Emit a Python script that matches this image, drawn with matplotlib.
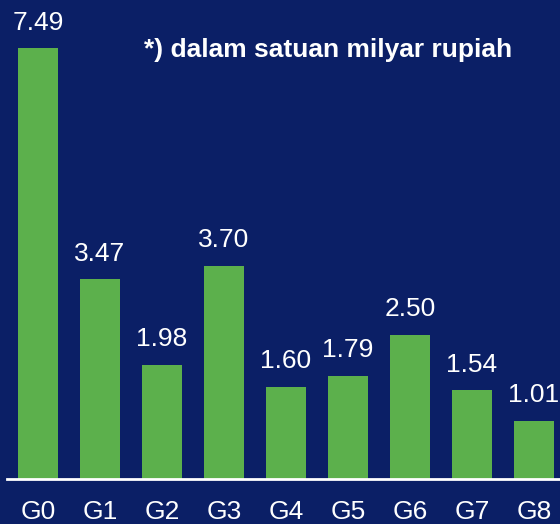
import matplotlib
matplotlib.use("Agg")
import matplotlib.pyplot as plt

categories = ["G0", "G1", "G2", "G3", "G4", "G5", "G6", "G7", "G8"]
values = [7.49, 3.47, 1.98, 3.70, 1.60, 1.79, 2.50, 1.54, 1.01]
note = "*) dalam satuan milyar rupiah"

navy = "#0b1f66"
green = "#5cb04c"

plt.rcParams["font.family"] = ["Liberation Sans", "DejaVu Sans"]

fig = plt.figure(figsize=(5.6, 5.24), dpi=100, facecolor=navy)
ax = fig.add_axes([7 / 560, 45 / 524, 553 / 560, 479 / 524])
ax.set_facecolor(navy)

x = range(len(categories))
bars = ax.bar(x, values, width=0.645, color=green)
for b, v in zip(bars, values):
    ax.text(b.get_x() + b.get_width() / 2, v + 0.24, f"{v:.2f}",
            ha="center", va="bottom", color="white", fontsize=19)

ax.set_xlim(-0.5, 8.42)
ax.set_ylim(0, 479 / 57.5)
ax.set_xticks(list(x))
ax.set_xticklabels(categories, color="white", fontsize=19)
ax.tick_params(axis="x", length=0, pad=15)
ax.set_yticks([])
for s in ["top", "right", "left"]:
    ax.spines[s].set_visible(False)
ax.spines["bottom"].set_color("white")
ax.spines["bottom"].set_linewidth(2)

ax.text(321 / 553 * 8.92 - 0.5, 479 / 57.5 - 50 / 57.5, note, ha="center", va="center",
        color="white", fontsize=19, fontweight="bold")

fig.savefig("out.png", dpi=100, facecolor=navy)
